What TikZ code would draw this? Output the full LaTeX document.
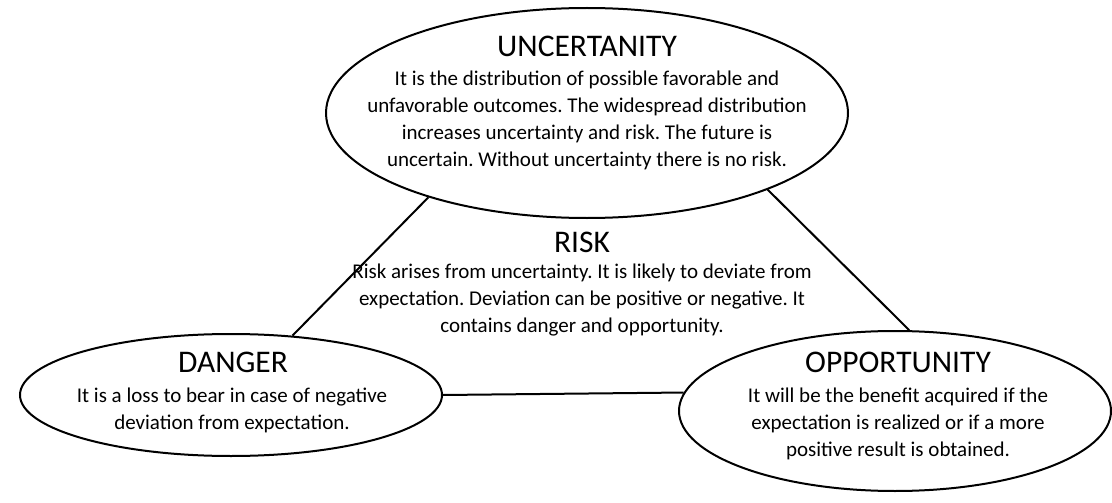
\documentclass[tikz,border=0pt]{standalone}
\usepackage{fontspec}
\setmainfont{Carlito}
\usetikzlibrary{shapes.geometric}
\frenchspacing
\begin{document}
\begin{tikzpicture}[x=1pt, y=-1pt, line width=2pt,
    oval/.style={draw, ellipse, inner sep=0pt},
    head/.style={anchor=base, font=\fontsize{31.5}{38}\selectfont},
    body/.style={anchor=base, align=center, font=\fontsize{21}{27}\selectfont}]
  \useasboundingbox (0,0) rectangle (1112,503);

  \node[oval, minimum width=522pt, minimum height=210pt] (unc) at (587,113) {};
  \node[oval, minimum width=422pt, minimum height=122pt] (dan) at (231,395) {};
  \node[oval, minimum width=432pt, minimum height=160pt] (opp) at (895,411) {};

  % body nodes sit on the baseline of their last line
  \node[head] (unchead) at (587,57) {UNCERTANITY};
  \node[body] (unctext) at (587,166) {It is the distribution of possible favorable and\\
    unfavorable outcomes. The widespread distribution\\
    increases uncertainty and risk. The future is\\
    uncertain. Without uncertainty there is no risk.};

  \node[head] (riskhead) at (582,252) {RISK};
  \node[body] (risktext) at (582,332) {Risk arises from uncertainty. It is likely to deviate from\\
    expectation. Deviation can be positive or negative. It\\
    contains danger and opportunity.};

  \node[head] (danhead) at (233,372) {DANGER};
  \node[body] (dantext) at (232,429) {It is a loss to bear in case of negative\\
    deviation from expectation.};

  \node[head] (opphead) at (898,372) {OPPORTUNITY};
  \node[body] (opptext) at (898,456) {It will be the benefit acquired if the\\
    expectation is realized or if a more\\
    positive result is obtained.};

  \draw (unc.208.7) -- (dan.44);
  \draw (unc.337.5) -- (opp.80.5);
  \draw (dan.east) -- (opp.175.7);
\end{tikzpicture}
\end{document}
